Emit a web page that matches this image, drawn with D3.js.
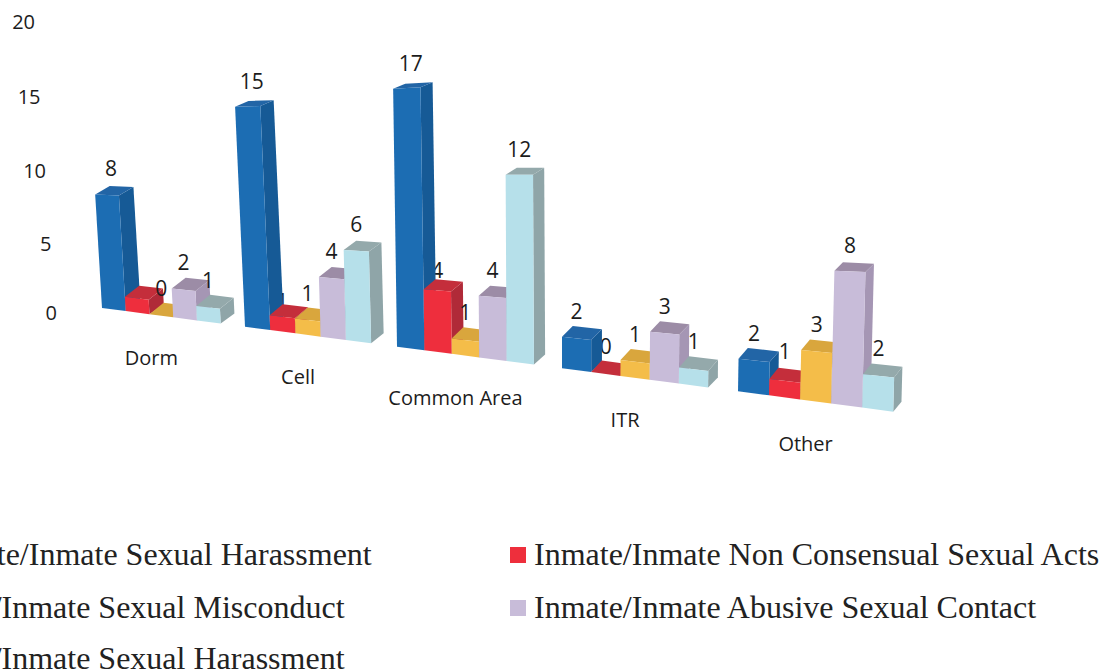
<!DOCTYPE html>
<html><head><meta charset="utf-8">
<script src="https://cdnjs.cloudflare.com/ajax/libs/d3/7.8.5/d3.min.js"></script>
<style>html,body{margin:0;padding:0;background:#fff;overflow:hidden}svg{display:block}</style>
</head><body><svg id="c" width="1114" height="672"></svg>
<script>
const categories = ["Dorm","Cell","Common Area","ITR","Other"];
const seriesNames = ["Inmate/Inmate Sexual Harassment","Inmate/Inmate Non Consensual Sexual Acts","Staff/Inmate Sexual Misconduct","Inmate/Inmate Abusive Sexual Contact","Staff/Inmate Sexual Harassment"];
const harassment = [8,15,17,2,2];
const nonConsensual = [1,1,4,0,1];
const misconduct = [0,1,1,1,3];
const abusive = [2,4,4,3,8];
const staffHarassment = [1,6,12,1,2];
const seriesValues = [harassment,nonConsensual,misconduct,abusive,staffHarassment];
const yTicks = [0,5,10,15,20];
const frontColors = ["#1f6db3","#ee2f3c","#f4bd4a","#c8bcd9","#b6e0ea"];
const sideColors  = ["#175a96","#b02a38","#b58f35","#a596b4","#8fa5a8"];
const topColors   = ["#2365a6","#c42f3a","#d9a63c","#9c8ca6","#94a9ab"];

const svg = d3.select("#c");
const FONT = "'Open Sans',sans-serif";
const defs = svg.append("defs");
defs.append("filter").attr("id","soft").append("feGaussianBlur").attr("stdDeviation",0.55);
// perspective position of a (category + fraction) coordinate
const xPos = d3.scaleLinear().domain([0,1,2,3,4,5]).range([102,245,397,562,738,925]);
const baseY = d3.scaleLinear().domain([102,893]).range([308,411.6]);
const unit = d3.scaleLinear().domain([102,893]).range([14.2,16.8]);
const lean = d3.scaleLinear().domain([102,245,397,833]).range([0.06,0.045,0.015,-0.025]);
const depthX = d3.scaleLinear().domain([102,893]).range([14.5,8]);
const depthY = d3.scaleLinear().domain([0,17]).range([11.5,5]);
const topSlope = d3.scaleLinear().domain([0,15]).range([0.131,-0.03]);
const redLift = d3.scaleLinear().domain([0,2,3,4]).range([10,19,26,28]);
const barSpan = 0.166;
const line = d3.line();

const bars = [];
categories.forEach((cat,i)=>seriesNames.forEach((nm,s)=>{
  const v = seriesValues[s][i];
  const x0 = xPos(i+s*barSpan), x1 = xPos(i+(s+1)*barSpan);
  const y0 = baseY(x0), y1 = baseY(x1);
  const h = v*unit(x0), lx = lean(x0)*h;
  const xt0 = x0-lx, xt1 = x1-lx;
  const yt0 = y0-h, yt1 = v===0 ? y1 : yt0+(x1-x0)*topSlope(v);
  const d = depthX(x0), dy = depthY(v);
  bars.push({i,s,v,
    front:[[x0,y0],[x1,y1],[xt1,yt1],[xt0,yt0]],
    side:[[x1,y1],[x1+d,y1-10],[xt1+d,yt1-dy],[xt1,yt1]],
    top:[[xt0,yt0],[xt1,yt1],[xt1+d,yt1-dy],[xt0+d,yt0-dy]],
    lx:(xt0+xt1)/2+(s===0&&v>2?4:0), ly:yt0-(s===1?redLift(i):26)});
}));

const labelStyle = sel => sel.attr("font-family",FONT).attr("font-size",21).attr("fill","#1c1c1c").attr("text-anchor","middle").attr("dominant-baseline","central");

// red labels sit behind the bars, as in the picture
svg.append("g").selectAll("text").data(bars.filter(b=>b.s===1)).join("text")
  .call(labelStyle).attr("x",b=>b.lx).attr("y",b=>b.ly).text(b=>b.v);

const g = svg.append("g").attr("filter","url(#soft)").selectAll("g").data(bars).join("g");
g.append("path").attr("d",b=>line(b.side)+"Z").attr("fill",b=>sideColors[b.s]);
g.append("path").attr("d",b=>line(b.top)+"Z").attr("fill",b=>topColors[b.s]);
g.append("path").attr("d",b=>line(b.front)+"Z").attr("fill",b=>frontColors[b.s]);

svg.append("g").selectAll("text").data(bars.filter(b=>b.s!==1)).join("text")
  .call(labelStyle).attr("x",b=>b.lx).attr("y",b=>b.ly).text(b=>b.v);

// value axis: receding to the left with height
const yAxis = d3.scalePow().exponent(1.035).domain([0,20]).range([313,22]);
const axisRight = d3.scaleLinear().domain([0,20]).range([57,35]);
const ax = svg.append("g").call(d3.axisLeft(yAxis).tickValues(yTicks).tickSize(0).tickPadding(0));
ax.select(".domain").remove();
ax.selectAll(".tick").attr("transform",d=>`translate(${axisRight(d)},${yAxis(d)})`);
ax.selectAll("text").attr("font-family",FONT).attr("font-size",20).attr("fill","#1c1c1c").attr("text-anchor","end").attr("x",0).attr("dy","0.35em");

// category labels
svg.append("g").selectAll("text").data(categories).join("text")
  .attr("x",(c,i)=>xPos(i+2.5*barSpan)-10)
  .attr("y",(c,i)=>baseY(xPos(i+2.5*barSpan))+42)
  .attr("font-family",FONT).attr("font-size",20).attr("fill","#1c1c1c")
  .attr("text-anchor","middle").attr("dominant-baseline","central").text(c=>c);

// legend
const legendX = [-69,534], legendY = [565,618,669];
const leg = svg.append("g").selectAll("g").data(seriesNames).join("g");
leg.append("rect").attr("x",(n,s)=>legendX[s%2]-24).attr("y",(n,s)=>legendY[Math.floor(s/2)]-18)
  .attr("width",16).attr("height",16).attr("fill",(n,s)=>frontColors[s]);
leg.append("text").attr("x",(n,s)=>legendX[s%2]).attr("y",(n,s)=>legendY[Math.floor(s/2)])
  .attr("font-family","'Liberation Serif',serif").attr("font-size",32).attr("fill","#222").text(n=>n);
</script></body></html>
